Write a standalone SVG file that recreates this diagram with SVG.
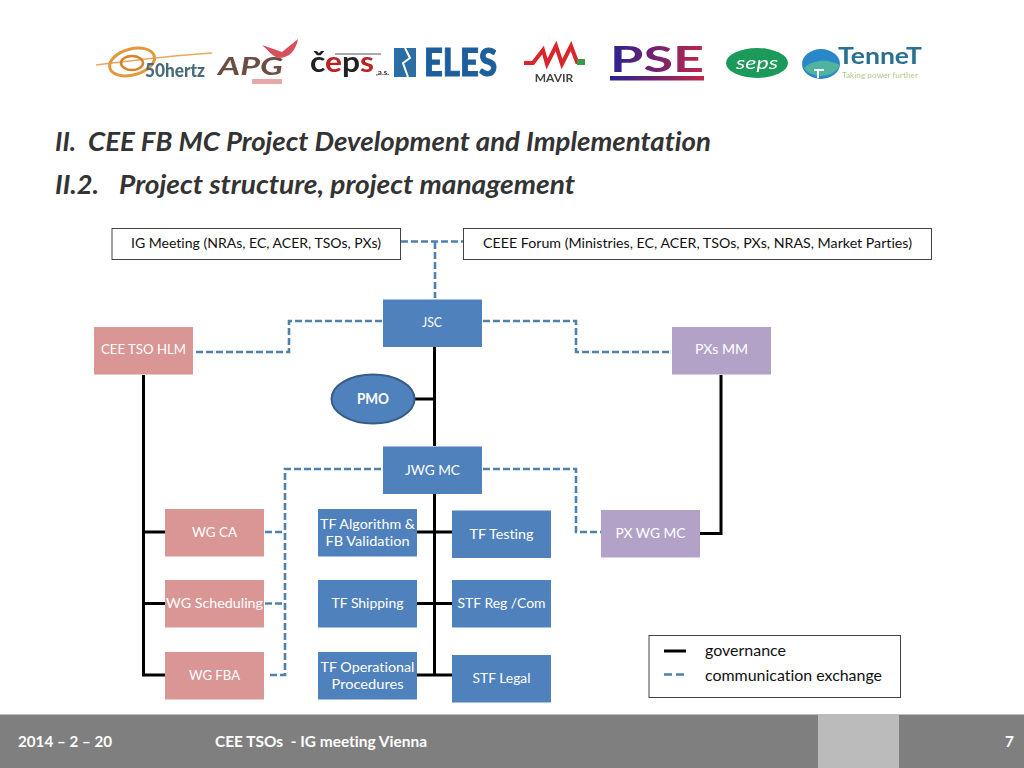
<svg xmlns="http://www.w3.org/2000/svg" width="1024" height="768" viewBox="0 0 1024 768">
<style>
text{font-family:Lato,"Open Sans","Liberation Sans",sans-serif;font-variant-ligatures:none}
.n{fill:#4f81bd}.r{fill:#d99694}.p{fill:#b3a2c7}
.t{fill:#fff;font-size:14.200px;text-anchor:middle}
.b{fill:#fff;stroke:#444;stroke-width:1}
.k{fill:#111;font-size:14.200px;text-anchor:middle}
.g{fill:none;stroke:#000;stroke-width:3}
.d{fill:none;stroke:#4f81ad;stroke-width:2.600;stroke-dasharray:7 3}
.h{font-size:27.500px;font-weight:700;font-style:italic;fill:#333}
.f{fill:#fff;font-size:15.300px;font-weight:700}
</style>
<defs>
<filter id="soft" x="-5%" y="-5%" width="110%" height="110%"><feGaussianBlur stdDeviation="0.6"/></filter>
<linearGradient id="pse" x1="0" x2="1" y1="0" y2="0"><stop offset="0" stop-color="#2a2090"/><stop offset="1" stop-color="#c02848"/></linearGradient>
</defs>
<rect width="1024" height="768" fill="#fff"/>
<g id="logos" filter="url(#soft)">
<g id="logo-50hertz">
<path d="M96 65C120 62 180 55 212 53" fill="none" stroke="#e8a860" stroke-width="1.500"/>
<ellipse cx="132" cy="62" rx="23" ry="13" fill="none" stroke="#e09a3c" stroke-width="3" transform="rotate(-15 132 62)"/>
<ellipse cx="132" cy="63" rx="11" ry="7" fill="none" stroke="#d9822b" stroke-width="2.500"/>
<text x="145" y="77" font-size="18" font-weight="900" fill="#4a6a7a" textLength="60" lengthAdjust="spacingAndGlyphs">50hertz</text>
</g>
<g id="logo-apg">
<text x="218" y="75" font-size="25" font-weight="700" font-style="italic" fill="#6a5045" textLength="65" lengthAdjust="spacingAndGlyphs">APG</text>
<path d="M262 45L282 52L298 39C296 50 290 58 278 58C272 56 268 50 262 45Z" fill="#d9505a"/>
<rect x="252" y="79" width="30" height="5" fill="#e6a8a8"/>
</g>
<g id="logo-ceps">
<text x="310" y="72" font-size="29" font-weight="700" fill="#222" textLength="64" lengthAdjust="spacingAndGlyphs">č<tspan fill="#b22">e</tspan>p<tspan fill="#b22">s</tspan></text>
<path d="M335 54H381" stroke="#555" stroke-width="1"/>
<text x="376" y="75" font-size="8" font-weight="700" fill="#333">,a.s.</text>
</g>
<g id="logo-eles">
<rect x="394" y="48" width="22" height="29" fill="#2b6ea5"/>
<path d="M405 48L410 58L403 63L408 77" fill="none" stroke="#fff" stroke-width="2"/>
<text x="424" y="76" font-size="38" font-weight="900" fill="#1f5f9c" stroke="#1f5f9c" stroke-width="1" textLength="73" lengthAdjust="spacingAndGlyphs">ELES</text>
</g>
<g id="logo-mavir">
<path d="M524 63H533L543 50L547 64L556 46L562 64L571 46L577 62H584" fill="none" stroke="#d8252b" stroke-width="4"/>
<rect x="577" y="59" width="8" height="6" fill="#3a9a4a"/>
<text x="554" y="82" font-size="12" font-weight="700" fill="#444" text-anchor="middle">MAVIR</text>
</g>
<g id="logo-pse">
<text x="610" y="72" font-size="36" font-weight="700" fill="url(#pse)" textLength="94" lengthAdjust="spacingAndGlyphs">PSE</text>
<rect x="610" y="76" width="94" height="4.500" fill="url(#pse)"/>
</g>
<g id="logo-seps">
<ellipse cx="757" cy="63" rx="31" ry="15" fill="#1f9a5a"/>
<text x="757" y="69" font-size="17" font-style="italic" fill="#fff" text-anchor="middle" textLength="42" lengthAdjust="spacingAndGlyphs">seps</text>
</g>
<g id="logo-tennet">
<ellipse cx="821" cy="64" rx="19" ry="15" fill="#2b88c8"/>
<path d="M804 68C815 58 830 60 840 65C835 78 812 80 804 68Z" fill="#4fb3a0"/>
<path d="M814 70H824M818 70V78" stroke="#fff" stroke-width="2"/>
<text x="838" y="64" font-size="22" font-weight="700" fill="#2a6f90" textLength="84" lengthAdjust="spacingAndGlyphs">TenneT</text>
<text x="842" y="78" font-size="8" fill="#a9cc8a" textLength="76" lengthAdjust="spacingAndGlyphs">Taking power further</text>
</g>
</g>
<g id="title">
<text class="h" x="55" y="151" textLength="21" lengthAdjust="spacingAndGlyphs">II.</text>
<text class="h" x="88" y="151" textLength="623" lengthAdjust="spacingAndGlyphs">CEE FB MC Project Development and Implementation</text>
<text class="h" x="55" y="194" textLength="44" lengthAdjust="spacingAndGlyphs">II.2.</text>
<text class="h" x="119" y="194" textLength="456" lengthAdjust="spacingAndGlyphs">Project structure, project management</text>
</g>
<g id="connectors">
<path class="d" d="M401 241.500H463M435 242V298"/>
<path class="d" d="M382 321H289V352H194"/>
<path class="d" d="M483 321H576V352H671"/>
<path class="d" d="M381 469H285V675H267M265 532H285M265 603.500H285"/>
<path class="d" d="M483 469H576V532H601"/>
<path class="g" d="M143.500 375V675H165M143.500 532H165M143.500 603.500H165"/>
<path class="g" d="M434.500 347V446M415 399H434.500"/>
<path class="g" d="M434.500 492V675M414 532H453M414 603.500H453M414 675H453"/>
<path class="g" d="M721 375V533.500H700"/>
</g>
<g id="ig"><rect class="b" x="112" y="228.500" width="288.500" height="31"/><text class="k" x="256" y="248" textLength="250" lengthAdjust="spacingAndGlyphs">IG Meeting (NRAs, EC, ACER, TSOs, PXs)</text></g>
<g id="ceee"><rect class="b" x="463.500" y="228.500" width="468" height="31"/><text class="k" x="697.500" y="248" textLength="429" lengthAdjust="spacingAndGlyphs">CEEE Forum (Ministries, EC, ACER, TSOs, PXs, NRAS, Market Parties)</text></g>
<g id="jsc"><rect class="n" x="383" y="299.500" width="99" height="47.500"/><text class="t" x="432" y="327" textLength="20" lengthAdjust="spacingAndGlyphs">JSC</text></g>
<g id="hlm"><rect class="r" x="94" y="327" width="99" height="47.500"/><text class="t" x="143.500" y="354" textLength="85" lengthAdjust="spacingAndGlyphs">CEE TSO HLM</text></g>
<g id="pxmm"><rect class="p" x="672" y="327" width="99" height="47.500"/><text class="t" x="721.500" y="354" textLength="53" lengthAdjust="spacingAndGlyphs">PXs MM</text></g>
<g id="pmo"><ellipse cx="373" cy="399" rx="41.500" ry="24.500" fill="#4f81bd" stroke="#385d8a" stroke-width="2"/><text class="t" x="373" y="404" font-weight="700" textLength="32" lengthAdjust="spacingAndGlyphs">PMO</text></g>
<g id="jwg"><rect class="n" x="383" y="446.500" width="99" height="47.500"/><text class="t" x="432.500" y="475" textLength="55" lengthAdjust="spacingAndGlyphs">JWG MC</text></g>
<g id="wgca"><rect class="r" x="165" y="509" width="99" height="47.500"/><text class="t" x="214.500" y="537" textLength="45" lengthAdjust="spacingAndGlyphs">WG CA</text></g>
<g id="wgsch"><rect class="r" x="165" y="580" width="99" height="47.500"/><text class="t" x="214.500" y="608" textLength="97" lengthAdjust="spacingAndGlyphs">WG Scheduling</text></g>
<g id="wgfba"><rect class="r" x="165" y="652" width="99" height="47.500"/><text class="t" x="214.500" y="680" textLength="51" lengthAdjust="spacingAndGlyphs">WG FBA</text></g>
<g id="tfalg"><rect class="n" x="318" y="509" width="99" height="47.500"/><text class="t" x="367.500" y="529" textLength="95" lengthAdjust="spacingAndGlyphs">TF Algorithm &amp;</text><text class="t" x="367.500" y="546" textLength="84" lengthAdjust="spacingAndGlyphs">FB Validation</text></g>
<g id="tfship"><rect class="n" x="318" y="580" width="99" height="47.500"/><text class="t" x="367.500" y="608" textLength="72" lengthAdjust="spacingAndGlyphs">TF Shipping</text></g>
<g id="tfop"><rect class="n" x="318" y="652" width="99" height="47.500"/><text class="t" x="367.500" y="672" textLength="94" lengthAdjust="spacingAndGlyphs">TF Operational</text><text class="t" x="367.500" y="689" textLength="72" lengthAdjust="spacingAndGlyphs">Procedures</text></g>
<g id="tftest"><rect class="n" x="452" y="510.500" width="99" height="47.500"/><text class="t" x="501.500" y="539" textLength="64" lengthAdjust="spacingAndGlyphs">TF Testing</text></g>
<g id="stfreg"><rect class="n" x="452" y="580" width="99" height="47.500"/><text class="t" x="501.500" y="608" textLength="88" lengthAdjust="spacingAndGlyphs">STF Reg /Com</text></g>
<g id="stflegal"><rect class="n" x="452" y="655" width="99" height="47.500"/><text class="t" x="501.500" y="683" textLength="58" lengthAdjust="spacingAndGlyphs">STF Legal</text></g>
<g id="pxwg"><rect class="p" x="601" y="510" width="99" height="47.500"/><text class="t" x="650.500" y="538" textLength="70" lengthAdjust="spacingAndGlyphs">PX WG MC</text></g>
<g id="legend">
<rect class="b" x="649" y="635.500" width="251.500" height="62"/>
<path d="M664 651H686" stroke="#000" stroke-width="3"/>
<path d="M664 674.500H684" stroke="#4f81ad" stroke-width="2.500" stroke-dasharray="8 4"/>
<text x="705" y="656" font-size="16" fill="#111" textLength="81" lengthAdjust="spacingAndGlyphs">governance</text>
<text x="705" y="681" font-size="16" fill="#111" textLength="177" lengthAdjust="spacingAndGlyphs">communication exchange</text>
</g>
<g id="footer">
<rect x="0" y="714.500" width="1024" height="53.500" fill="#7f7f7f"/>
<rect x="818" y="714.500" width="81" height="53.500" fill="#bbb"/>
<text class="f" x="18" y="747" textLength="94" lengthAdjust="spacingAndGlyphs">2014 – 2 – 20</text>
<text class="f" x="215" y="747" xml:space="preserve" textLength="212" lengthAdjust="spacingAndGlyphs">CEE TSOs  - IG meeting Vienna</text>
<text class="f" x="1005" y="747">7</text>
</g>
</svg>
